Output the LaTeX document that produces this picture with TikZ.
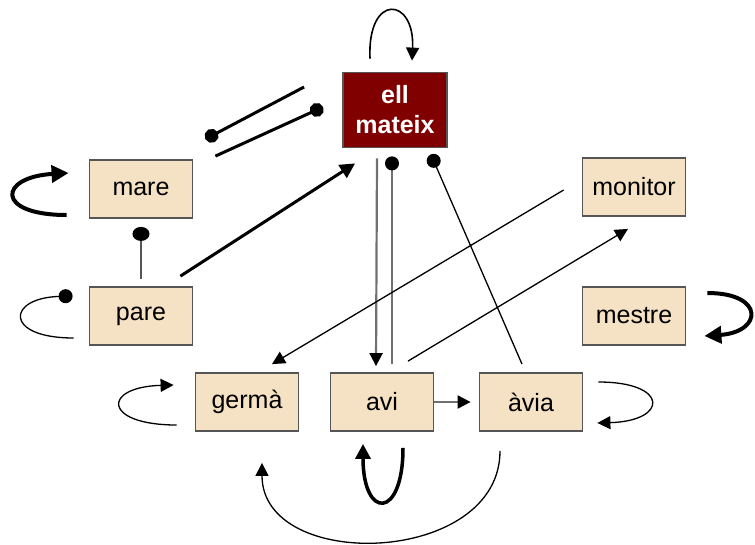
\documentclass[tikz,border=0pt]{standalone}
\usepackage{fontspec}
\setmainfont{Liberation Sans}
\usepackage{xcolor}
\usepackage{tikz}
\usetikzlibrary{arrows.meta}
\definecolor{boxFill}{HTML}{F5E1C3}
\definecolor{boxLine}{HTML}{555555}
\definecolor{selfRed}{HTML}{800000}
\definecolor{linkGray}{HTML}{707070}

\begin{document}
\begin{tikzpicture}[x=1pt, y=-1pt,
    person/.style={draw=boxLine, line width=1.8pt, fill=boxFill, minimum width=103pt, minimum height=58pt, inner sep=0pt, font=\fontsize{25}{28}\selectfont},
    selfbox/.style={draw=boxLine, line width=1.8pt, fill=selfRed, text=white, minimum width=104pt, minimum height=75pt, inner sep=0pt, align=center, font=\fontsize{25}{30}\selectfont\bfseries},
    link/.style={line width=1.3pt, -{Triangle[length=13pt, width=13pt]}},
    thicklink/.style={line width=3pt, -{Triangle[length=15pt, width=15pt]}},
    heavylink/.style={line width=4pt, -{Triangle[length=17pt, width=17pt]}},
    dotlink/.style={line width=1.3pt, -{Circle[length=14pt]}},
    graylink/.style={draw=linkGray, line width=2.2pt}]
    \useasboundingbox (0,0) rectangle (755,544);
    \node[selfbox] (ell) at (395,110) {ell\\mateix};
    \node[person] (mare) at (141,189) {mare};
    \node[person] (pare) at (141,316) {pare};
    \node[person] (monitor) at (634,187) {monitor};
    \node[person] (mestre) at (634,316) {mestre};
    \node[person] (germa) at (247,402) {germà};
    \node[person] (avi) at (382,402) {avi};
    \node[person] (avia) at (531,402) {àvia};
    \draw[link, line width=1.6pt] ([shift={(-25,-13)}]ell.north) .. controls +(-3,-66) and +(3,-64) .. ([shift={(17,-11)}]ell.north);
    \draw[line width=3pt, {Circle[length=14pt]}-] ([shift={(12,-20)}]mare.north east) -- ([shift={(-38,-23)}]ell.west);
    \draw[line width=3pt, -{Circle[length=14pt]}] ([shift={(22,-3)}]mare.north east) -- ([shift={(-19,-3)}]ell.west);
    \draw[heavylink] ([shift={(-22,26)}]mare.west) .. controls +(-72,0) and +(-70,4) .. ([shift={(-20,-16)}]mare.west);
    \draw[boxLine, line width=1.8pt, -{Circle[length=14pt, width=17pt, fill=black, color=black]}] ([yshift=7pt]pare.north) -- ([yshift=-8pt]mare.south);
    \draw[dotlink] ([shift={(-15,22)}]pare.west) .. controls +(-70,0) and +(-66,2) .. ([shift={(-16,-20)}]pare.west);
    \draw[thicklink] ([shift={(-13,-10)}]pare.north east) -- ([shift={(13,15)}]ell.south west);
    \draw[graylink, -{Triangle[length=13pt, width=13pt, fill=black, color=black]}] ([shift={(-18,10)}]ell.south) -- ([shift={(-6,-6)}]avi.north);
    \draw[graylink, -{Circle[length=14pt, fill=black, color=black]}] ([shift={(10,-8)}]avi.north) -- ([shift={(-3,8)}]ell.south);
    \draw[dotlink] ([shift={(-9,-8)}]avia.north) -- ([shift={(-17,6)}]ell.south east);
    \draw[link] ([shift={(-18,3)}]monitor.west) -- ([shift={(25,-8)}]germa.north);
    \draw[link] ([shift={(26,-11)}]avi.north) -- ([shift={(-6,12)}]monitor.south);
    \draw[heavylink] ([shift={(21,-23)}]mestre.east) .. controls +(58,0) and +(58,-4) .. ([shift={(18,20)}]mestre.east);
    \draw[link] ([shift={(-18,23)}]germa.west) .. controls +(-74,0) and +(-72,2) .. ([shift={(-21,-17)}]germa.west);
    \draw[graylink, shorten >=8pt, -{Triangle[length=13pt, width=13pt, fill=black, color=black]}] (avi.east) -- (avia.west);
    \draw[link] ([shift={(15,-20)}]avia.east) .. controls +(71,0) and +(71,-2) .. ([shift={(14,21)}]avia.east);
    \draw[line width=3.5pt, -{Triangle[length=15pt, width=15pt]}] ([shift={(21,16)}]avi.south) .. controls +(0,72) and +(0,76) .. ([shift={(-19,12)}]avi.south);
    \draw[link] ([shift={(-31,19)}]avia.south) .. controls +(0,115) and +(0,110) .. ([shift={(15,31)}]germa.south);
\end{tikzpicture}
\end{document}
